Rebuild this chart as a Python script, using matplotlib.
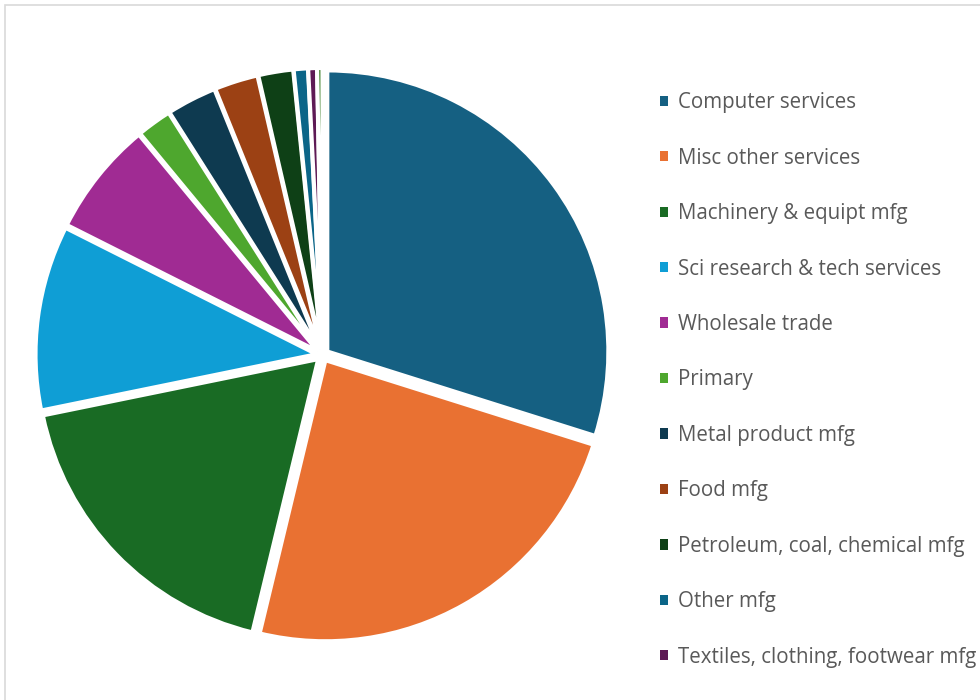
import matplotlib
matplotlib.use("Agg")
import matplotlib.pyplot as plt
from matplotlib.patches import Rectangle

# Shares by industry (%), clockwise from 12 o'clock
industries = [
    "Computer services",
    "Misc other services",
    "Machinery & equipt mfg",
    "Sci research & tech services",
    "Wholesale trade",
    "Primary",
    "Metal product mfg",
    "Food mfg",
    "Petroleum, coal, chemical mfg",
    "Other mfg",
    "Textiles, clothing, footwear mfg",
]
shares = [29.81, 23.86, 18.0, 10.61, 6.58, 2.0, 2.86, 2.5, 2.0, 0.81, 0.5]
# remaining sliver at the top of the pie (not listed in the visible legend)
rest_share = 0.3

colors = [
    "#156082", "#E97132", "#196B24", "#0F9ED5", "#A02B93", "#4EA72E",
    "#0E3A50", "#9C4114", "#0E4016", "#0B6588", "#5E1A55", "#3A7D22",
]

W, H = 980, 700
fig = plt.figure(figsize=(W / 100, H / 100), dpi=100)
fig.patch.set_facecolor("white")

# chart area outline (runs past the right/bottom edges)
fig.patches.append(Rectangle((5 / W, -0.1), 1.2, 1 - 5 / H + 0.1,
                             transform=fig.transFigure, fill=False,
                             edgecolor="#d9d9d9", linewidth=1.2))

# pie axes: centre (322.5, 355) px, radius 281 px
R = 281
cx, cy = 322.5, 355
ax = fig.add_axes([(cx - R) / W, (H - cy - R) / H, 2 * R / W, 2 * R / H])
values = shares + [rest_share]
wedges, _ = ax.pie(
    values,
    colors=colors,
    startangle=90,
    counterclock=False,
    explode=[6 / R] * len(values),
    wedgeprops=dict(edgecolor="white", linewidth=2.9),
)
for w in wedges:
    w.set_clip_on(False)
ax.set_xlim(-1, 1)
ax.set_ylim(-1, 1)
ax.set_aspect("equal")
ax.axis("off")

leg = fig.legend(
    wedges[:len(industries)], industries,
    loc="upper left",
    bbox_to_anchor=(652 / W, 1 - 84 / H),
    frameon=False,
    prop={"family": "Open Sans", "size": 14.8},
    labelcolor="#595959",
    handlelength=0.4,
    handleheight=0.4,
    handletextpad=0.45,
    labelspacing=1.675,
    borderaxespad=0,
)
for h in leg.legend_handles:
    h.set_linewidth(0)

fig.savefig("out.png", dpi=100)
